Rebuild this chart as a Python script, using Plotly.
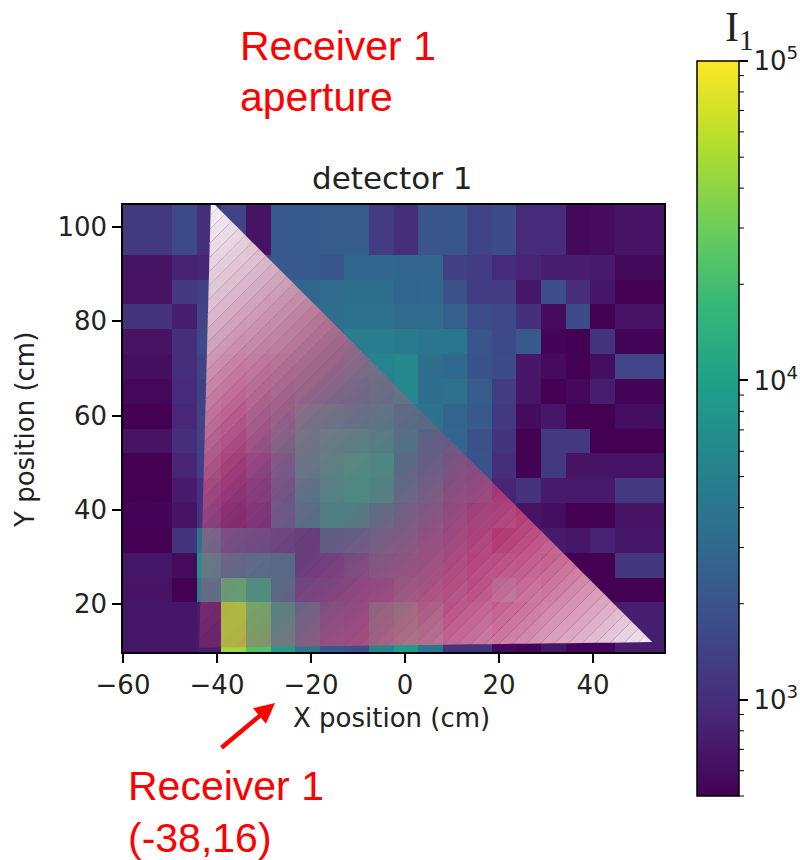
import numpy as np
import plotly.graph_objects as go

W, H = 800, 860
x_range = [-60, 55.1]
y_range = [9.8, 104.7]
n_cols, n_rows = 22, 18
x_edges = np.linspace(x_range[0], x_range[1], n_cols + 1)
y_edges = np.linspace(y_range[1], y_range[0], n_rows + 1)

# log10(I1), top row first
log_i = [
 [3.09,3.09,3.21,3.00,3.16,2.82,3.34,3.34,3.37,3.37,3.11,3.00,3.32,3.32,3.16,3.23,2.98,2.98,2.75,2.77,2.82,2.82],
 [3.09,3.09,3.21,3.00,3.16,2.82,3.34,3.34,3.37,3.37,3.11,3.00,3.32,3.32,3.16,3.23,2.98,2.98,2.75,2.77,2.82,2.82],
 [2.82,2.82,2.91,2.93,3.05,3.16,3.34,3.34,3.32,3.46,3.46,3.44,3.44,3.14,3.11,2.98,2.93,2.88,2.88,2.86,2.75,2.75],
 [2.82,2.82,3.09,3.14,3.16,3.28,3.44,3.46,3.51,3.53,3.53,3.44,3.46,3.28,3.11,3.11,2.84,3.25,3.00,2.84,2.70,2.70],
 [3.05,3.05,2.88,3.16,3.21,3.34,3.46,3.53,3.53,3.57,3.57,3.51,3.51,3.39,3.25,3.21,3.02,2.77,3.23,2.70,2.82,2.82],
 [2.82,2.82,3.00,3.21,3.23,3.39,3.57,3.57,3.57,3.67,3.67,3.64,3.60,3.60,3.32,3.21,3.34,2.72,2.70,3.05,2.72,2.72],
 [2.79,2.79,3.00,3.16,3.09,3.28,3.46,3.57,3.57,3.67,3.74,3.78,3.53,3.48,3.30,3.23,2.84,2.77,2.70,2.79,3.18,3.18],
 [2.75,2.75,2.98,3.14,3.05,3.28,3.46,3.57,3.57,3.62,3.71,3.78,3.53,3.55,3.37,3.11,2.84,2.70,2.75,2.88,2.72,2.72],
 [2.70,2.70,2.95,3.16,2.98,3.28,3.48,3.76,3.78,3.74,3.78,3.62,3.57,3.44,3.34,3.09,2.77,2.84,2.70,2.70,2.79,2.79],
 [2.82,2.82,3.00,3.16,2.98,3.25,3.53,3.80,3.90,3.90,3.85,3.67,3.51,3.46,3.28,3.05,2.70,3.09,3.09,2.70,2.70,2.70],
 [2.70,2.70,2.93,3.14,2.88,3.09,3.39,3.80,3.92,3.99,3.94,3.62,3.51,3.39,3.30,3.00,2.70,3.09,2.82,2.82,2.82,2.82],
 [2.70,2.70,2.86,3.05,2.88,3.02,3.34,3.74,3.90,3.97,3.90,3.67,3.55,3.34,3.28,2.93,3.05,2.86,2.86,2.86,3.09,3.09],
 [2.72,2.72,2.82,3.05,2.86,2.98,3.39,3.67,3.85,3.85,3.69,3.57,3.48,3.28,3.09,3.05,2.82,2.79,2.70,2.70,2.82,2.82],
 [2.70,2.70,3.05,3.57,3.28,3.25,3.16,3.11,3.46,3.51,3.57,3.53,3.39,3.21,3.05,2.75,2.79,2.86,2.84,2.91,2.84,2.84],
 [2.84,2.84,2.77,3.85,3.57,3.62,3.57,3.11,3.16,3.30,3.48,3.44,3.39,3.21,2.98,2.93,2.82,2.70,2.70,2.70,3.07,3.07],
 [2.82,2.82,2.70,3.67,4.26,4.03,3.57,3.21,3.21,3.23,3.28,3.51,3.39,3.16,2.88,3.28,2.88,2.70,2.70,2.70,2.70,2.70],
 [2.84,2.84,2.84,2.88,4.66,4.36,3.97,3.62,3.34,3.28,3.74,3.97,3.62,3.05,3.05,2.75,2.72,2.84,2.72,2.72,2.88,2.88],
 [2.84,2.84,2.84,2.88,4.66,4.36,3.97,3.62,3.34,3.28,3.74,3.97,3.62,3.05,3.05,2.75,2.72,2.84,2.72,2.72,2.88,2.88],
]
x_ticks = [-60, -40, -20, 0, 20, 40]
x_labels = ["\u221260", "\u221240", "\u221220", "0", "20", "40"]
y_ticks = [20, 40, 60, 80, 100]
cbar_ticks = [3, 4, 5]
cbar_labels = ["10<sup>3</sup>", "10<sup>4</sup>", "10<sup>5</sup>"]
cbar_minor = [500, 600, 700, 800, 900, 2000, 3000, 4000, 5000, 6000, 7000, 8000, 9000,
              20000, 30000, 40000, 50000, 60000, 70000, 80000, 90000]
z_min, z_max = 2.699, 5.0

# aperture triangle (data coordinates)
aperture = [(-41.3, 105.6), (52.6, 11.9), (-43.8, 10.7)]
receiver_mark = (-42.2, 11.8)

# gradient of the aperture overlay: position, r, g, b, alpha
grad = [
 (0.00, 255, 255, 255, 0.95),
 (0.12, 240, 205, 215, 0.90),
 (0.25, 232, 125, 155, 0.75),
 (0.32, 232, 90, 130, 0.58),
 (0.37, 232, 80, 125, 0.42),
 (0.45, 230, 70, 115, 0.30),
 (0.50, 235, 70, 100, 0.22),
 (0.54, 232, 60, 110, 0.30),
 (0.60, 232, 65, 115, 0.45),
 (0.70, 232, 80, 125, 0.68),
 (0.85, 236, 160, 185, 0.85),
 (1.00, 250, 245, 248, 0.96),
]
n_bands = 64


def px_x(p):
    return p / W


def px_y(p):
    return 1 - p / H


def clip(poly, u0, u1):
    def half(pts, f):
        out = []
        for i in range(len(pts)):
            a, b = pts[i], pts[(i + 1) % len(pts)]
            fa, fb = f(a), f(b)
            if fa >= 0:
                out.append(a)
            if fa * fb < 0:
                s = fa / (fa - fb)
                out.append((a[0] + s * (b[0] - a[0]), a[1] + s * (b[1] - a[1])))
        return out
    p = half(poly, lambda q: (q[0] - q[1]) - u0)
    return half(p, lambda q: u1 - (q[0] - q[1])) if p else p


fig = go.Figure()
fig.add_trace(go.Heatmap(
    x=x_edges, y=y_edges, z=log_i, colorscale="Viridis", zmin=z_min, zmax=z_max, hoverinfo="skip",
    colorbar=dict(
        x=px_x(697), xanchor="left", xpad=0, y=px_y(796), yanchor="bottom", ypad=0,
        thickness=42, thicknessmode="pixels", len=(796 - 61) / H, lenmode="fraction",
        outlinewidth=1.5, outlinecolor="black", ticks="outside", ticklen=9, tickwidth=1.5, tickcolor="black",
        tickmode="array", tickvals=cbar_ticks, ticktext=cbar_labels,
        tickfont=dict(family="DejaVu Sans", size=26, color="#222222"),
    ),
))

us = [q[0] - q[1] for q in aperture]
u_min, u_max = min(us), max(us)
g = np.array(grad)
for i in range(n_bands):
    t0, t1 = i / n_bands, (i + 1) / n_bands
    poly = clip(aperture, u_min + t0 * (u_max - u_min), u_min + t1 * (u_max - u_min))
    if len(poly) < 3:
        continue
    tc = (t0 + t1) / 2
    r, gg, b, a = [float(np.interp(tc, g[:, 0], g[:, k])) for k in (1, 2, 3, 4)]
    fig.add_trace(go.Scatter(
        x=[q[0] for q in poly] + [poly[0][0]], y=[q[1] for q in poly] + [poly[0][1]],
        mode="lines", line=dict(width=0), fill="toself",
        fillcolor=f"rgba({r:.0f},{gg:.0f},{b:.0f},{a:.3f})",
        hoverinfo="skip", showlegend=False, cliponaxis=False,
    ))

fig.add_trace(go.Scatter(
    x=[receiver_mark[0]], y=[receiver_mark[1]], mode="markers", cliponaxis=False,
    marker=dict(symbol="circle-x-open", size=49, color="rgba(0,0,0,0)", line=dict(color="#ff0000", width=8)),
    hoverinfo="skip", showlegend=False,
))

shapes = []
for v in cbar_minor:
    py = 61 + (z_max - np.log10(v)) / (z_max - z_min) * (796 - 61)
    shapes.append(dict(type="line", xref="paper", yref="paper", x0=px_x(739), x1=px_x(744),
                       y0=px_y(py), y1=px_y(py), line=dict(color="black", width=1)))


def label(text, px, py, size, family="Liberation Sans", color="#ff0000", xanchor="left", **kw):
    return dict(text=text, x=px_x(px), y=px_y(py), xref="paper", yref="paper", showarrow=False,
                xanchor=xanchor, yanchor="middle", font=dict(family=family, size=size, color=color), **kw)


annotations = [
    label("Receiver 1", 238, 46, 41),
    label("aperture", 238, 97, 41),
    label("Receiver 1", 126, 786, 41),
    label("(-38,16)", 126, 838, 41),
    label("I<sub>1</sub>", 723, 30, 42, family="Liberation Serif", color="#222222"),
    label("detector 1", 392, 178, 31, family="DejaVu Sans", color="#222222", xanchor="center"),
    label("X position (cm)", 391, 718, 26, family="DejaVu Sans", color="#222222", xanchor="center"),
    label("Y position (cm)", 25, 430, 26, family="DejaVu Sans", color="#222222", xanchor="center", textangle=-90),
    dict(x=px_x(275), y=px_y(703), ax=-55, ay=46, xref="paper", yref="paper", axref="pixel", ayref="pixel",
         showarrow=True, arrowhead=2, arrowwidth=4.5, arrowsize=0.9, arrowcolor="#ff0000", text=""),
]

axis_common = dict(showgrid=False, zeroline=False, showline=True, mirror=True, linecolor="black", linewidth=1.5,
                   ticks="outside", ticklen=9, tickwidth=1.5, tickcolor="black",
                   tickfont=dict(family="DejaVu Sans", size=26, color="#222222"))
fig.update_layout(
    width=W, height=H, autosize=False, paper_bgcolor="white", plot_bgcolor="white",
    margin=dict(l=0, r=0, t=0, b=0, autoexpand=False), showlegend=False,
    xaxis=dict(domain=[px_x(123), px_x(664)], range=x_range, tickmode="array", tickvals=x_ticks, ticktext=x_labels, **axis_common),
    yaxis=dict(domain=[px_y(652), px_y(205)], range=y_range, tickmode="array", tickvals=y_ticks, **axis_common),
    shapes=shapes, annotations=annotations,
)
fig.write_html("out.html", config={"displayModeBar": False},
               post_script="document.body.style.margin='0';document.documentElement.style.overflow='hidden';")
